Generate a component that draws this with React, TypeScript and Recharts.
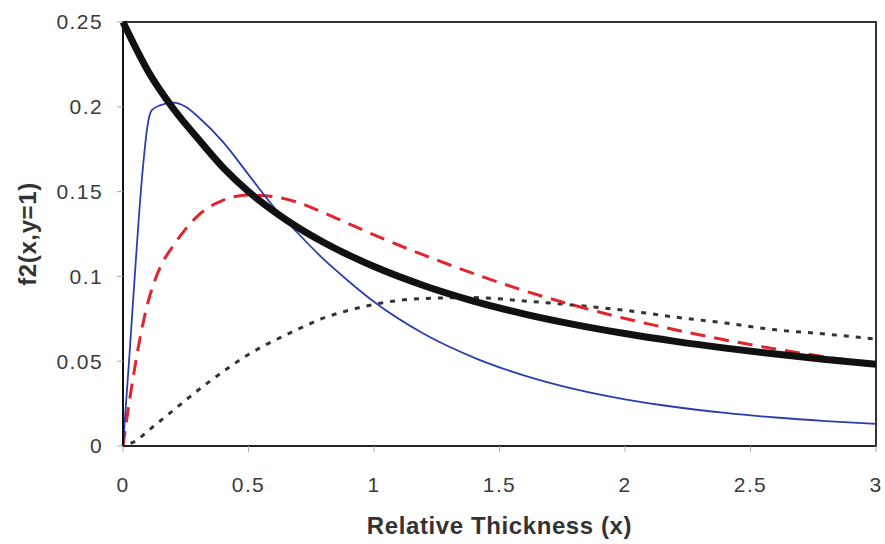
import React from 'react';
import { LineChart, Line, XAxis, YAxis, ReferenceArea, Label } from 'recharts';

// values
const thickX = [0, 0.1, 0.2, 0.3, 0.4, 0.5, 0.6, 0.7, 0.8, 0.9, 1.0, 1.2, 1.4, 1.6, 1.8, 2.0, 2.2, 2.4, 2.6, 2.8, 3.0];
const thickY = [0.25, 0.221, 0.199, 0.181, 0.164, 0.15, 0.1385, 0.1285, 0.12, 0.1125, 0.1058, 0.0945, 0.0853, 0.0778, 0.0716, 0.0663, 0.0617, 0.0577, 0.0542, 0.051, 0.0482];

const blueX = [0, 0.025, 0.05, 0.075, 0.1, 0.115, 0.15, 0.2, 0.25, 0.3, 0.4, 0.5, 0.6, 0.7, 0.8, 0.9, 1.0, 1.2, 1.4, 1.6, 1.8, 2.0, 2.2, 2.4, 2.6, 2.8, 3.0];
const blueY = [0, 0.052, 0.107, 0.157, 0.191, 0.198, 0.201, 0.2025, 0.2, 0.194, 0.179, 0.16, 0.141, 0.125, 0.11, 0.097, 0.085, 0.066, 0.052, 0.0415, 0.0335, 0.0275, 0.023, 0.0195, 0.0168, 0.0147, 0.013];

const redX = [0, 0.025, 0.05, 0.075, 0.1, 0.125, 0.15, 0.2, 0.25, 0.3, 0.4, 0.5, 0.6, 0.7, 0.8, 0.9, 1.0, 1.2, 1.4, 1.6, 1.8, 2.0, 2.2, 2.4, 2.6, 2.8, 3.0];
const redY = [0, 0.026, 0.049, 0.069, 0.085, 0.097, 0.106, 0.118, 0.128, 0.136, 0.145, 0.148, 0.147, 0.1435, 0.1375, 0.131, 0.1245, 0.1125, 0.1015, 0.0915, 0.0828, 0.0752, 0.0685, 0.0625, 0.0572, 0.0525, 0.0483];

const dotX = [0, 0.05, 0.1, 0.2, 0.3, 0.4, 0.5, 0.6, 0.7, 0.8, 0.9, 1.0, 1.2, 1.4, 1.6, 1.8, 2.0, 2.2, 2.4, 2.6, 2.8, 3.0];
const dotY = [0, 0.003, 0.009, 0.021, 0.033, 0.044, 0.054, 0.062, 0.069, 0.0755, 0.08, 0.0835, 0.087, 0.0875, 0.0855, 0.083, 0.08, 0.076, 0.0725, 0.0685, 0.066, 0.063];

const xTicks = [0, 0.5, 1, 1.5, 2, 2.5, 3];
const yTicks = [0, 0.05, 0.1, 0.15, 0.2, 0.25];

const toPoints = (xs: number[], ys: number[]) => xs.map((x, i) => ({ x, y: ys[i] }));

const FONT = '"Liberation Sans", Arial, Helvetica, sans-serif';
const tickStyle = { fontSize: 21, fill: '#3a3a3a', fontFamily: FONT, letterSpacing: 1.4 };
const titleStyle = { fontSize: 24, fontWeight: 'bold', fill: '#333', fontFamily: FONT, letterSpacing: 0.6 };

const YTitle = (props: any) => {
    const vb = props.viewBox || { x: 0, y: 22, width: 123, height: 424 };
    const cx = 27;
    const cy = vb.y + vb.height / 2;
    return (
        <text
            x={cx}
            y={cy}
            transform={`rotate(-90, ${cx}, ${cy})`}
            textAnchor="middle"
            dominantBaseline="central"
            style={titleStyle}
        >
            f2(x,y=1)
        </text>
    );
};

export default function App() {
    return (
        <div style={{ position: 'absolute', left: 0, top: 0, width: 885, height: 544, background: '#fff' }}>
            <LineChart width={885} height={544} margin={{ top: 22, right: 9, left: 0, bottom: 0 }}>
                <XAxis
                    dataKey="x"
                    type="number"
                    domain={[0, 3]}
                    ticks={xTicks}
                    height={98}
                    axisLine={{ stroke: '#222', strokeWidth: 2 }}
                    tickLine={{ stroke: '#aaa' }}
                    tickSize={6}
                    tickMargin={25}
                    tick={tickStyle}
                    allowDuplicatedCategory={false}
                >
                    <Label value="Relative Thickness (x)" position="insideBottom" offset={10} style={titleStyle} />
                </XAxis>
                <YAxis
                    type="number"
                    domain={[0, 0.25]}
                    ticks={yTicks}
                    width={123}
                    axisLine={{ stroke: '#111', strokeWidth: 2 }}
                    tickLine={{ stroke: '#aaa' }}
                    tickSize={6}
                    tickMargin={14}
                    tick={tickStyle}
                >
                    <Label content={YTitle} />
                </YAxis>
                <ReferenceArea x1={0} x2={3} y1={0} y2={0.25} fill="none" stroke="#333" strokeWidth={2} />
                <Line
                    data={toPoints(dotX, dotY)}
                    dataKey="y"
                    type="monotone"
                    stroke="#333"
                    strokeWidth={3}
                    strokeDasharray="5 7"
                    strokeDashoffset={-8}
                    dot={false}
                    activeDot={false}
                    isAnimationActive={false}
                />
                <Line
                    data={toPoints(redX, redY)}
                    dataKey="y"
                    type="monotone"
                    stroke="#e3232d"
                    strokeWidth={3}
                    strokeDasharray="15 9"
                    dot={false}
                    activeDot={false}
                    isAnimationActive={false}
                />
                <Line
                    data={toPoints(blueX, blueY)}
                    dataKey="y"
                    type="monotone"
                    stroke="#2b3eb0"
                    strokeWidth={1.8}
                    dot={false}
                    activeDot={false}
                    isAnimationActive={false}
                />
                <Line
                    data={toPoints(thickX, thickY)}
                    dataKey="y"
                    type="monotone"
                    stroke="#111"
                    strokeWidth={7}
                    dot={false}
                    activeDot={false}
                    isAnimationActive={false}
                />
            </LineChart>
        </div>
    );
}
